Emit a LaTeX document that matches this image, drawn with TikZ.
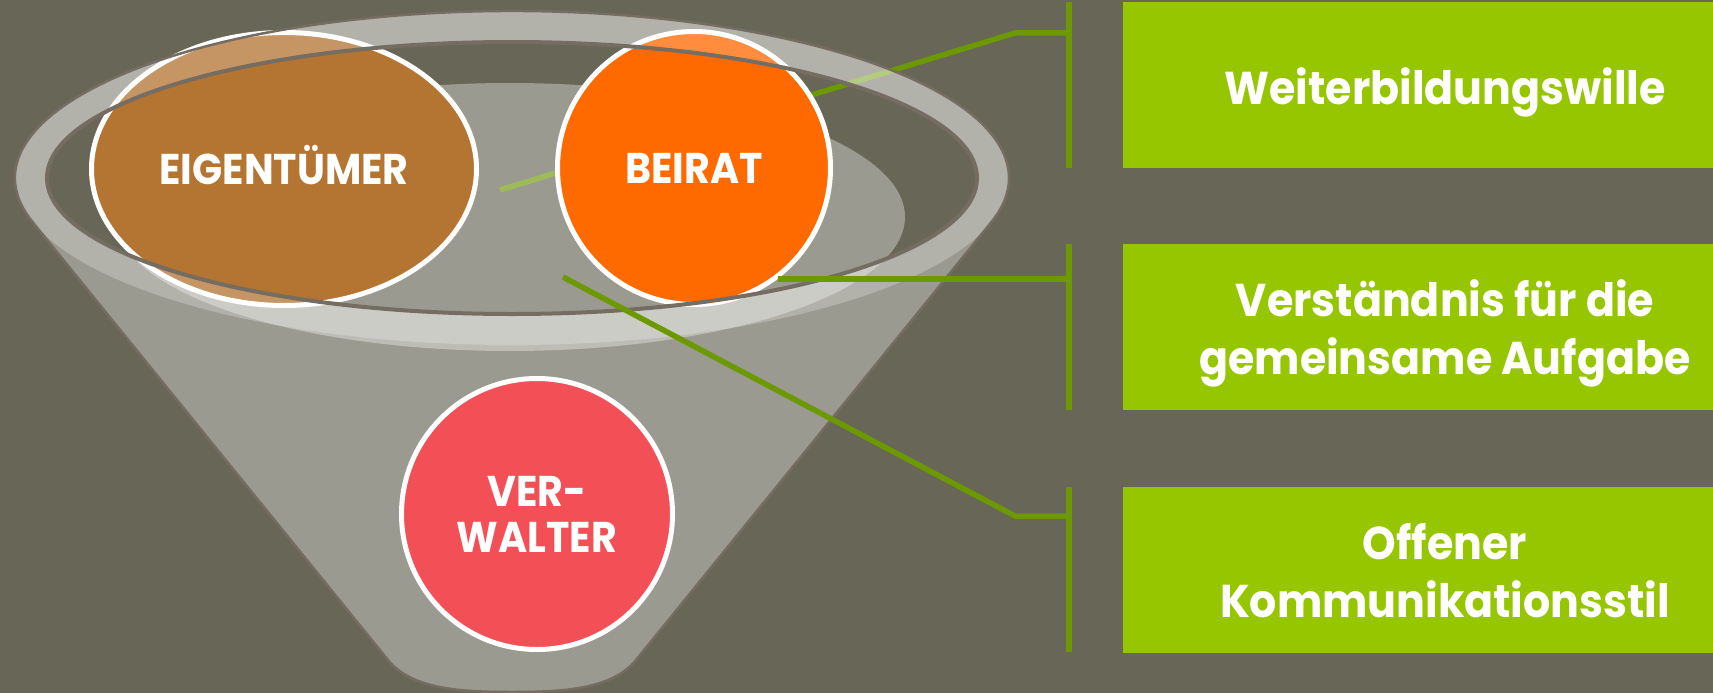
\documentclass[tikz,border=0pt]{standalone}
\usepackage{fontspec}
\setmainfont{Poppins}
\newfontfamily\labfont{Poppins}[FakeStretch=0.92]
\newfontfamily\boxfont{Poppins}[FakeStretch=0.93]
\usetikzlibrary{shapes.geometric}
\definecolor{bgc}{RGB}{104,102,87}
\definecolor{rimc}{RGB}{117,108,98}
\definecolor{boxgreen}{RGB}{150,198,0}
\definecolor{linegreen}{RGB}{108,152,0}
\definecolor{eigc}{RGB}{180,116,50}
\definecolor{beic}{RGB}{255,106,0}
\definecolor{verc}{RGB}{242,80,86}
\begin{document}
\begin{tikzpicture}[x=1pt,y=-1pt,
  circ/.style={draw=white, line width=5pt, inner sep=0pt, text=white,
    font=\labfont\bfseries\fontsize{43}{46}\selectfont, align=center},
  gbox/.style={rectangle, fill=boxgreen, minimum width=644pt, minimum height=166pt,
    inner sep=0pt},
  btext/.style={inner sep=0pt, text=white,
    font=\boxfont\bfseries\fontsize{46}{58}\selectfont, align=center},
  conn/.style={draw=linegreen, line width=5.5pt},
  gbar/.style={draw=linegreen, line width=6pt},
  veil/.style={fill=white, fill opacity=0.34},
  rimline/.style={draw=rimc, line width=4pt}]
\useasboundingbox (0,0) rectangle (1713,693);
\clip (0,0) rectangle (1713,693);
\fill[bgc] (0,0) rectangle (1713,693);

% coordinates for connectors
\coordinate (b1t) at (1069,2);   \coordinate (b1b) at (1069,168);
\coordinate (b2t) at (1069,244); \coordinate (b2b) at (1069,410);
\coordinate (b3t) at (1069,487); \coordinate (b3b) at (1069,652);
\coordinate (s1) at (500,190);   \coordinate (e1) at (1015,33);
\coordinate (s3) at (563,277);   \coordinate (e3) at (1015,516);

% connector 1 (behind the funnel)
\draw[conn] (s1) -- (e1) -- (e1 -| b1t);

% funnel body with hole
\path[veil, even odd rule]
  (512,178) ++(195:497pt and 167pt)
  arc[start angle=195, end angle=-15, x radius=497pt, y radius=167pt]
  -- (636,660) .. controls (612,690) and (560,692) .. (512,692)
  .. controls (464,692) and (412,690) .. (388,660) -- cycle
  (512,178) ellipse[x radius=465pt, y radius=136pt];
% interior surface
\fill[veil] (510,217) ellipse[x radius=395pt, y radius=134pt];

% circles
\node[circ, ellipse, minimum width=385pt, minimum height=273pt, fill=eigc, text depth=8pt] (eig) at (284,169) {EIGENTÜMER};
\node[circ, circle, minimum size=273pt, fill=beic] (bei) at (694,168) {BEIRAT};
\node[circ, circle, minimum size=271pt, fill=verc] (ver) at (537,514) {VER-\\WALTER};

% rim ring overlay
\fill[white, fill opacity=0.24, even odd rule]
  (512,178) ellipse[x radius=497pt, y radius=167pt]
  (512,178) ellipse[x radius=465pt, y radius=136pt];

% funnel outline
\draw[rimc, line width=2.5pt]
  (512,178) ++(195:497pt and 167pt)
  arc[start angle=195, end angle=-15, x radius=497pt, y radius=167pt]
  -- (636,660) .. controls (612,690) and (560,692) .. (512,692)
  .. controls (464,692) and (412,690) .. (388,660) -- cycle;
\draw[rimline] (512,178) ellipse[x radius=465pt, y radius=136pt];

% connectors 2 and 3
\draw[conn] (bei.-53) -- (bei.-53 -| b2t);
\draw[conn] (s3) -- (e3) -- (e3 -| b3t);

% bars
\draw[gbar] (b1t) -- (b1b);
\draw[gbar] (b2t) -- (b2b);
\draw[gbar] (b3t) -- (b3b);

% boxes
\node[gbox] (w) at (1445,85) {};
\node[gbox] (v) at (1445,327) {};
\node[gbox] (o) at (1445,569.5) {};
\node[btext] (wt) at ([yshift=-7pt]w.center) {Weiterbildungswille};
\node[btext] (vt) at ([yshift=-6pt]v.center) {Verständnis für die\\gemeinsame Aufgabe};
\node[btext] (ot) at ([yshift=-1pt]o.center) {Offener\\Kommunikationsstil};
\end{tikzpicture}
\end{document}
